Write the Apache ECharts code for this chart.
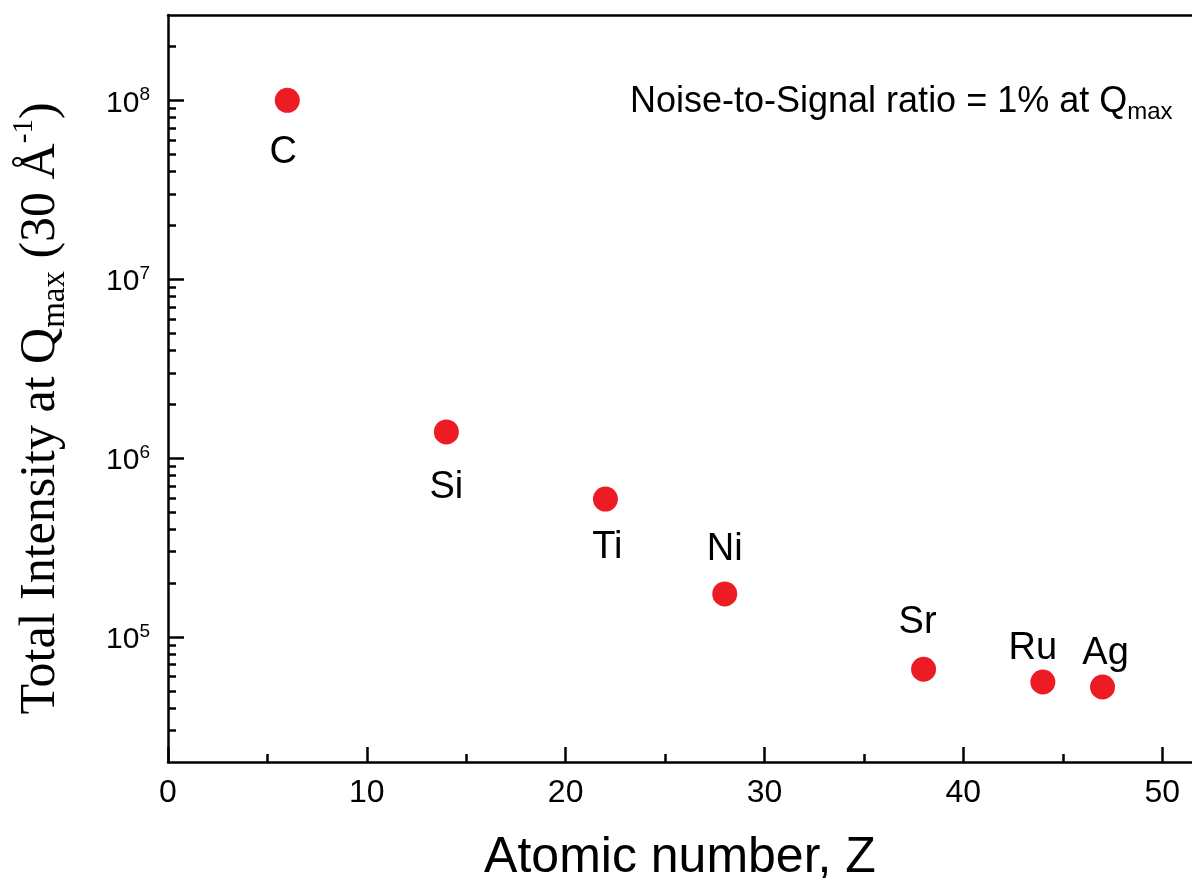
<!DOCTYPE html>
<html>
<head>
<meta charset="utf-8">
<script src="https://cdn.jsdelivr.net/npm/echarts@6/dist/echarts.min.js"></script>
<style>
  html, body { margin: 0; padding: 0; background: #ffffff; }
  #chart { width: 1192px; height: 878px; }
</style>
</head>
<body>
<div id="chart"></div>
<script>
// ---- data ----
const elements = ['C', 'Si', 'Ti', 'Ni', 'Sr', 'Ru', 'Ag'];
const atomicNumbers = [6, 14, 22, 28, 38, 44, 47];
const intensities = [1.0e8, 1.40e6, 5.9e5, 1.74e5, 6.6e4, 5.6e4, 5.25e4];

const xTicks = [0, 10, 20, 30, 40, 50];
const xMinorTicks = [5, 15, 25, 35, 45];
const yTicks = [1e5, 1e6, 1e7, 1e8];
const yMinorTicks = [3e4, 4e4, 5e4, 6e4, 7e4, 8e4, 9e4,
  2e5, 3e5, 4e5, 5e5, 6e5, 7e5, 8e5, 9e5,
  2e6, 3e6, 4e6, 5e6, 6e6, 7e6, 8e6, 9e6,
  2e7, 3e7, 4e7, 5e7, 6e7, 7e7, 8e7, 9e7,
  2e8];

// ---- label placement (style only) ----
const labelPlacement = {
  C:  { position: 'bottom', distance: 21, offset: [-4, 0] },
  Si: { position: 'bottom', distance: 24, offset: [0, 0] },
  Ti: { position: 'bottom', distance: 17, offset: [2, 0] },
  Ni: { position: 'top', distance: 13, offset: [0, 0] },
  Sr: { position: 'top', distance: 15, offset: [-6, 0] },
  Ru: { position: 'top', distance: 2, offset: [-10, 0] },
  Ag: { position: 'top', distance: 2, offset: [3, 0] }
};

const AX = '#000000';
const LW = 2.5;
const X_MIN = 0, X_MAX = 51.5;
const Y_MIN = 2e4, Y_MAX = 3e8;

const seriesData = elements.map((el, i) => ({
  name: el,
  value: [atomicNumbers[i], intensities[i]],
  label: Object.assign({ show: true }, labelPlacement[el])
}));

const chart = echarts.init(document.getElementById('chart'), null, { renderer: 'canvas' });

const option = {
  animation: false,
  backgroundColor: '#ffffff',
  title: {
    text: '{m|Noise-to-Signal ratio = 1% at Q}{sub|max}',
    left: 630,
    top: 80,
    padding: 0,
    textStyle: {
      fontWeight: 'normal',
      rich: {
        m: { fontFamily: 'Liberation Sans', fontWeight: 'normal', fontSize: 36, lineHeight: 44, color: '#000', verticalAlign: 'middle' },
        sub: { fontFamily: 'Liberation Sans', fontWeight: 'normal', fontSize: 24, color: '#000', verticalAlign: 'bottom' }
      }
    }
  },
  grid: { left: 168, right: 0, top: 15, bottom: 116, containLabel: false, outerBoundsMode: 'none' },
  xAxis: [
    {
      type: 'value', position: 'bottom', min: X_MIN, max: X_MAX,
      name: 'Atomic number, Z', nameLocation: 'middle', nameGap: 71,
      nameTextStyle: { fontFamily: 'Liberation Sans', fontSize: 50, color: '#000' },
      axisLine: { show: true, onZero: false, lineStyle: { color: AX, width: LW } },
      axisTick: { show: true, inside: true, length: 15, customValues: xTicks, lineStyle: { color: AX, width: LW } },
      axisLabel: { show: true, customValues: xTicks, margin: 15, fontFamily: 'Liberation Sans', fontSize: 32, color: '#000' },
      splitLine: { show: false }
    },
    {
      type: 'value', position: 'bottom', min: X_MIN, max: X_MAX,
      axisLine: { show: false, onZero: false },
      axisTick: { show: true, inside: true, length: 8, customValues: xMinorTicks, lineStyle: { color: AX, width: LW } },
      axisLabel: { show: false },
      splitLine: { show: false }
    },
    {
      type: 'value', position: 'top', min: X_MIN, max: X_MAX,
      axisLine: { show: true, onZero: false, lineStyle: { color: AX, width: LW } },
      axisTick: { show: false }, axisLabel: { show: false }, splitLine: { show: false }
    }
  ],
  yAxis: [
    {
      type: 'log', logBase: 10, position: 'left', min: Y_MIN, max: Y_MAX,
      name: '{m|Total Intensity at Q}{sub|max}{m| (30 Å}{sup|-1}{m|)}',
      nameLocation: 'middle', nameGap: 96, nameRotate: 90,
      nameTextStyle: {
        padding: [0, 40, 0, 0],
        rich: {
          m: { fontFamily: 'Liberation Serif', fontSize: 50, lineHeight: 62, color: '#000', verticalAlign: 'middle' },
          sub: { fontFamily: 'Liberation Serif', fontSize: 33, lineHeight: 42, color: '#000', verticalAlign: 'bottom' },
          sup: { fontFamily: 'Liberation Serif', fontSize: 29, lineHeight: 42, color: '#000', verticalAlign: 'top' }
        }
      },
      axisLine: { show: true, onZero: false, lineStyle: { color: AX, width: LW } },
      axisTick: { show: true, inside: true, length: 16, customValues: yTicks, lineStyle: { color: AX, width: LW } },
      axisLabel: {
        show: true, customValues: yTicks, margin: 18,
        fontFamily: 'Liberation Sans', fontSize: 30, lineHeight: 36, color: '#000',
        padding: [6, 0, 0, 0],
        formatter: function (v) { return '10{sup|' + Math.round(Math.log10(v)) + '}'; },
        rich: {
          sup: { fontFamily: 'Liberation Sans', fontSize: 19, color: '#000', verticalAlign: 'top' }
        }
      },
      splitLine: { show: false },
      minorTick: { show: false }
    },
    {
      type: 'log', logBase: 10, position: 'left', min: Y_MIN, max: Y_MAX,
      axisLine: { show: false, onZero: false },
      axisTick: { show: true, inside: true, length: 8, customValues: yMinorTicks, lineStyle: { color: AX, width: LW } },
      axisLabel: { show: false },
      splitLine: { show: false }
    }
  ],
  series: [
    {
      type: 'scatter',
      xAxisIndex: 0, yAxisIndex: 0,
      symbol: 'circle', symbolSize: 25,
      itemStyle: { color: '#ed1c24', opacity: 1 },
      label: {
        show: true,
        formatter: '{b}',
        fontFamily: 'Liberation Sans', fontSize: 38, lineHeight: 38, color: '#000', opacity: 1
      },
      emphasis: { disabled: true },
      data: seriesData
    }
  ]
};

chart.setOption(option);
</script>
</body>
</html>
